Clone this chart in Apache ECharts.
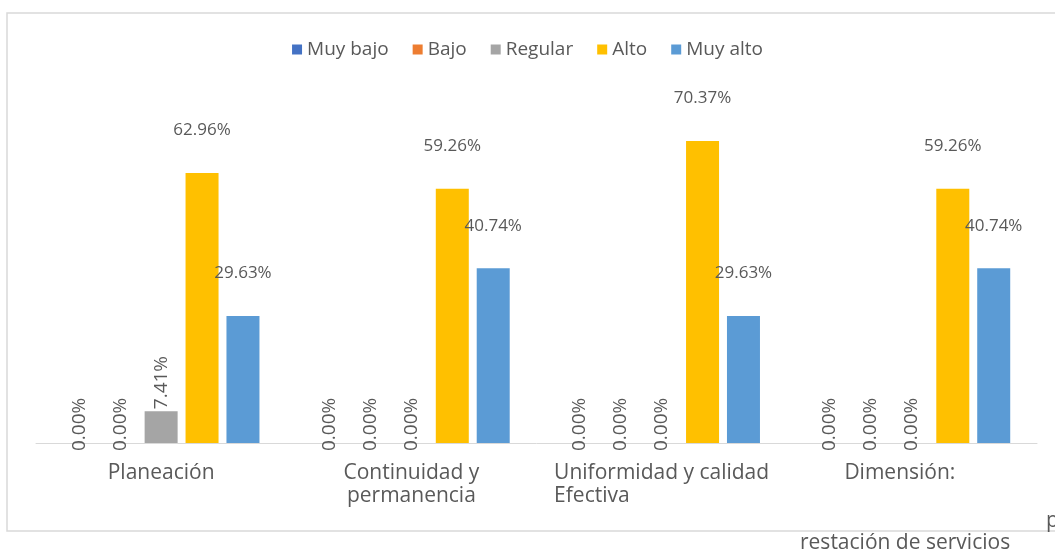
<!DOCTYPE html>
<html>
<head>
<meta charset="utf-8">
<script src="https://cdn.jsdelivr.net/npm/echarts@6/dist/echarts.min.js"></script>
<style>
html,body{margin:0;padding:0;background:#fff;}
#chart{width:1055px;height:552px;}
</style>
</head>
<body>
<div id="chart"></div>
<script>
const categories = ['Planeación', 'Continuidad y\npermanencia', 'Uniformidad y calidad\nEfectiva', 'Dimensión:'];
const seriesNames = ['Muy bajo', 'Bajo', 'Regular', 'Alto', 'Muy alto'];
const muyBajo = [0, 0, 0, 0];
const bajo = [0, 0, 0, 0];
const regular = [7.41, 0, 0, 0];
const alto = [62.96, 59.26, 70.37, 59.26];
const muyAlto = [29.63, 40.74, 29.63, 40.74];
const colors = ['#4472C4', '#ED7D31', '#A5A5A5', '#FFC000', '#5B9BD5'];

const FONT = 'Open Sans';
const TXT = '#595959';

function fmt(p) { return p.value.toFixed(2) + '%'; }

function buildData(values, rotateNonZero) {
  return values.map(v => {
    if (v === 0) {
      return { value: v, label: { show: true, position: 'insideBottom', distance: -8, rotate: 90, align: 'left', verticalAlign: 'middle', fontSize: 19 } };
    }
    if (rotateNonZero) {
      return { value: v, label: { show: true, position: 'top', distance: 2, rotate: 90, align: 'left', verticalAlign: 'middle', fontSize: 19 } };
    }
    return { value: v, label: { show: true, position: 'top', distance: 34 } };
  });
}

const allValues = [muyBajo, bajo, regular, alto, muyAlto];
const series = allValues.map((vals, i) => ({
  name: seriesNames[i],
  type: 'bar',
  barWidth: 33,
  barGap: '24%',
  itemStyle: { color: colors[i] },
  label: { show: true, formatter: fmt, color: TXT, fontFamily: FONT, fontSize: 17 },
  data: buildData(vals, i === 2)
}));

const chart = echarts.init(document.getElementById('chart'));
chart.setOption({
  animation: false,
  backgroundColor: '#fff',
  textStyle: { fontFamily: FONT },
  graphic: [
    { type: 'rect', shape: { x: 7, y: 13, width: 1100, height: 518 }, style: { fill: 'none', stroke: '#d9d9d9', lineWidth: 1.5 }, z: -1 },
    { type: 'text', left: 1046, top: 511, style: { text: 'p', fill: TXT, font: '21px "Open Sans"' } },
    { type: 'text', left: 800, top: 533, style: { text: 'restación de servicios', fill: TXT, font: '21px "Open Sans"' } }
  ],
  legend: {
    top: 35,
    left: 'center',
    itemWidth: 10,
    itemHeight: 10,
    itemGap: 24,
    icon: 'rect',
    textStyle: { color: TXT, fontSize: 19, fontFamily: FONT },
    data: seriesNames
  },
  grid: { left: 36, right: 18, top: 14, bottom: 109 },
  xAxis: {
    type: 'category',
    data: categories,
    axisLine: { lineStyle: { color: '#d9d9d9', width: 1 } },
    axisTick: { show: false },
    axisLabel: {
      color: TXT, fontSize: 21, fontFamily: FONT, margin: 19, lineHeight: 23, interval: 0,
      formatter: function (v) {
        if (v.indexOf('Uniformidad') === 0) {
          const parts = v.split('\n');
          return '{a|' + parts[0] + '}\n{b|' + parts[1] + '}';
        }
        if (v.indexOf('Dimensión') === 0) {
          return '{c|' + v + '}';
        }
        return v;
      },
      rich: {
        a: { color: TXT, fontSize: 21, fontFamily: FONT, lineHeight: 23 },
        b: { color: TXT, fontSize: 21, fontFamily: FONT, lineHeight: 23, width: 212, align: 'left' },
        c: { color: TXT, fontSize: 21, fontFamily: FONT, lineHeight: 23, padding: [0, 24, 0, 0] }
      }
    }
  },
  yAxis: { type: 'value', min: 0, max: 100, show: false, splitLine: { show: false } },
  series: series
});
</script>
</body>
</html>
